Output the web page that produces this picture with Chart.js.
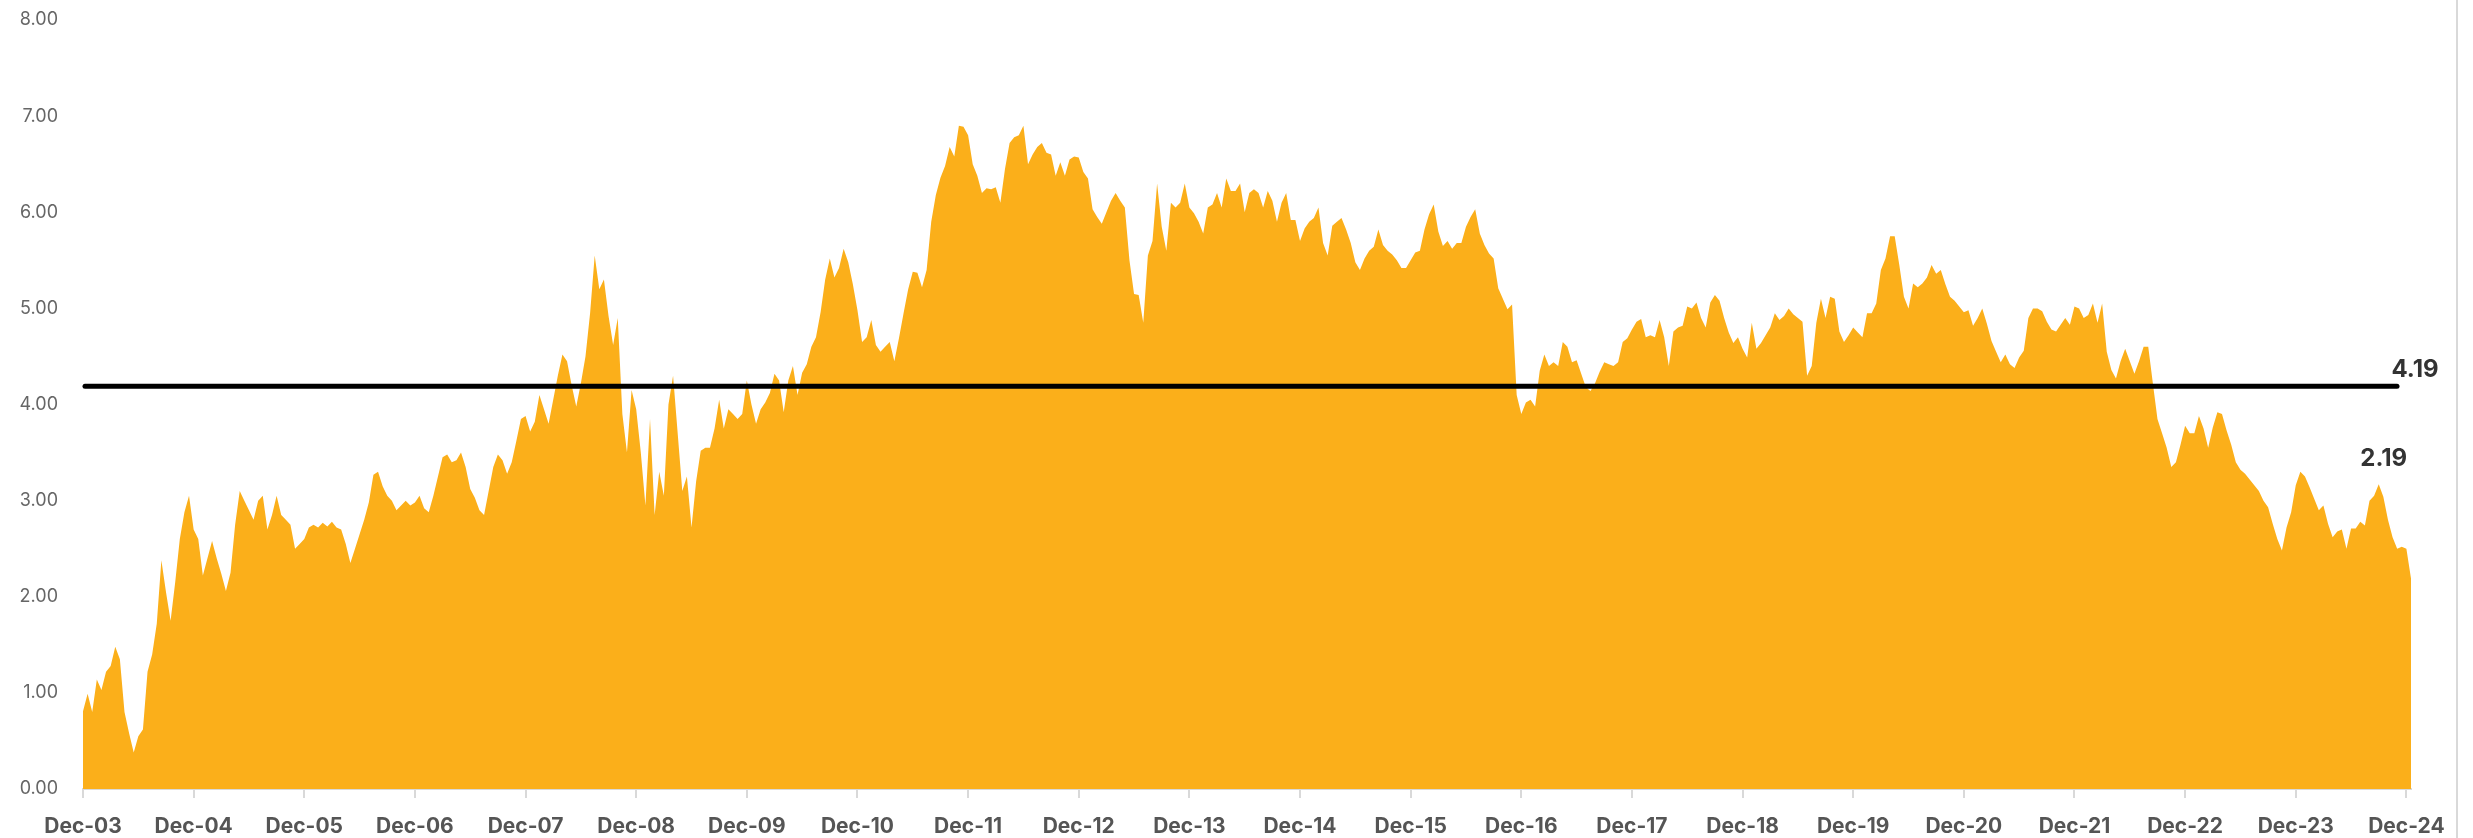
<!DOCTYPE html>
<html>
<head>
<meta charset="utf-8">
<title>Spread chart</title>
<script src="https://cdn.jsdelivr.net/npm/chart.js@4.4.1/dist/chart.umd.min.js"></script>
<style>
  html, body { margin: 0; padding: 0; background: #fff; }
  #wrap { width: 2473px; height: 838px; }
</style>
</head>
<body>
<div id="wrap"><canvas id="spreadChart" width="2473" height="838"></canvas></div>
<script>
// Year tick labels (one per December)
const tickLabels = ['Dec-03', 'Dec-04', 'Dec-05', 'Dec-06', 'Dec-07', 'Dec-08', 'Dec-09',
  'Dec-10', 'Dec-11', 'Dec-12', 'Dec-13', 'Dec-14', 'Dec-15', 'Dec-16', 'Dec-17',
  'Dec-18', 'Dec-19', 'Dec-20', 'Dec-21', 'Dec-22', 'Dec-23', 'Dec-24'];

// Two readings per month, starting Dec-03
const pointsPerYear = 24;

const spreadValues = [
  // Dec-03 .. Dec-04
  0.81, 0.99, 0.80, 1.14, 1.03, 1.22, 1.28, 1.48, 1.35, 0.80, 0.58, 0.38,
  0.55, 0.62, 1.22, 1.40, 1.72, 2.38, 2.05, 1.75, 2.15, 2.60, 2.88, 3.05,
  // Dec-04 .. Dec-05
  2.70, 2.60, 2.22, 2.40, 2.58, 2.40, 2.24, 2.06, 2.25, 2.75, 3.10, 3.00,
  2.90, 2.80, 3.00, 3.05, 2.70, 2.85, 3.05, 2.85, 2.80, 2.75, 2.50, 2.55,
  // Dec-05 .. Dec-06
  2.60, 2.72, 2.75, 2.72, 2.77, 2.73, 2.78, 2.72, 2.70, 2.55, 2.35, 2.50,
  2.65, 2.80, 2.98, 3.27, 3.30, 3.15, 3.05, 3.00, 2.90, 2.95, 3.00, 2.95,
  // Dec-06 .. Dec-07
  2.98, 3.05, 2.92, 2.88, 3.05, 3.25, 3.45, 3.48, 3.40, 3.42, 3.50, 3.35,
  3.12, 3.03, 2.90, 2.85, 3.10, 3.35, 3.48, 3.42, 3.28, 3.40, 3.62, 3.85,
  // Dec-07 .. Dec-08
  3.88, 3.72, 3.82, 4.10, 3.95, 3.80, 4.05, 4.30, 4.52, 4.45, 4.20, 3.98,
  4.22, 4.50, 4.95, 5.55, 5.20, 5.30, 4.92, 4.62, 4.90, 3.90, 3.50, 4.15,
  // Dec-08 .. Dec-09
  3.95, 3.50, 2.95, 3.85, 2.85, 3.30, 3.05, 4.00, 4.30, 3.70, 3.10, 3.25,
  2.72, 3.20, 3.52, 3.55, 3.55, 3.75, 4.05, 3.75, 3.95, 3.90, 3.85, 3.90,
  // Dec-09 .. Dec-10
  4.25, 4.00, 3.80, 3.95, 4.02, 4.12, 4.32, 4.25, 3.92, 4.25, 4.40, 4.10,
  4.33, 4.42, 4.60, 4.70, 4.96, 5.30, 5.52, 5.32, 5.42, 5.62, 5.48, 5.25,
  // Dec-10 .. Dec-11
  4.98, 4.65, 4.70, 4.88, 4.62, 4.55, 4.60, 4.65, 4.45, 4.69, 4.95, 5.20,
  5.38, 5.37, 5.22, 5.40, 5.90, 6.18, 6.36, 6.48, 6.68, 6.58, 6.90, 6.89,
  // Dec-11 .. Dec-12
  6.80, 6.50, 6.38, 6.20, 6.25, 6.24, 6.26, 6.10, 6.45, 6.72, 6.78, 6.80,
  6.90, 6.50, 6.60, 6.68, 6.72, 6.62, 6.60, 6.38, 6.52, 6.38, 6.55, 6.58,
  // Dec-12 .. Dec-13
  6.57, 6.42, 6.35, 6.03, 5.95, 5.88, 6.00, 6.12, 6.20, 6.12, 6.05, 5.50,
  5.15, 5.14, 4.85, 5.55, 5.70, 6.30, 5.85, 5.60, 6.10, 6.05, 6.10, 6.30,
  // Dec-13 .. Dec-14
  6.05, 5.99, 5.90, 5.78, 6.05, 6.08, 6.20, 6.05, 6.35, 6.22, 6.22, 6.30,
  6.00, 6.20, 6.24, 6.20, 6.05, 6.22, 6.12, 5.90, 6.10, 6.20, 5.92, 5.92,
  // Dec-14 .. Dec-15
  5.70, 5.83, 5.90, 5.94, 6.05, 5.68, 5.55, 5.86, 5.90, 5.94, 5.82, 5.68,
  5.48, 5.40, 5.52, 5.60, 5.64, 5.82, 5.66, 5.60, 5.56, 5.50, 5.42, 5.42,
  // Dec-15 .. Dec-16
  5.50, 5.58, 5.60, 5.82, 5.98, 6.08, 5.80, 5.65, 5.70, 5.62, 5.68, 5.68,
  5.85, 5.95, 6.03, 5.78, 5.66, 5.57, 5.52, 5.21, 5.10, 4.99, 5.04, 4.10,
  // Dec-16 .. Dec-17
  3.90, 4.02, 4.05, 3.98, 4.35, 4.52, 4.40, 4.44, 4.40, 4.65, 4.60, 4.44,
  4.46, 4.32, 4.18, 4.14, 4.22, 4.34, 4.44, 4.42, 4.40, 4.44, 4.65, 4.69,
  // Dec-17 .. Dec-18
  4.78, 4.86, 4.89, 4.70, 4.72, 4.70, 4.88, 4.70, 4.40, 4.76, 4.80, 4.82,
  5.02, 5.00, 5.06, 4.90, 4.80, 5.06, 5.14, 5.08, 4.90, 4.75, 4.64, 4.70,
  // Dec-18 .. Dec-19
  4.58, 4.49, 4.85, 4.58, 4.64, 4.72, 4.80, 4.95, 4.88, 4.92, 5.00, 4.94,
  4.90, 4.86, 4.30, 4.40, 4.85, 5.10, 4.90, 5.12, 5.10, 4.76, 4.65, 4.72,
  // Dec-19 .. Dec-20
  4.80, 4.75, 4.70, 4.95, 4.95, 5.05, 5.40, 5.52, 5.75, 5.75, 5.45, 5.12,
  5.00, 5.26, 5.22, 5.26, 5.32, 5.45, 5.36, 5.40, 5.25, 5.12, 5.08, 5.02,
  // Dec-20 .. Dec-21
  4.96, 4.98, 4.82, 4.90, 5.00, 4.84, 4.66, 4.55, 4.44, 4.52, 4.42, 4.38,
  4.49, 4.56, 4.90, 5.00, 5.00, 4.97, 4.86, 4.78, 4.76, 4.83, 4.90, 4.83,
  // Dec-21 .. Dec-22
  5.02, 5.00, 4.90, 4.93, 5.05, 4.85, 5.05, 4.55, 4.36, 4.27, 4.45, 4.58,
  4.45, 4.32, 4.45, 4.60, 4.60, 4.22, 3.85, 3.70, 3.55, 3.35, 3.40, 3.58,
  // Dec-22 .. Dec-23
  3.78, 3.70, 3.70, 3.88, 3.75, 3.55, 3.76, 3.92, 3.90, 3.73, 3.58, 3.40,
  3.32, 3.28, 3.22, 3.16, 3.10, 3.00, 2.93, 2.76, 2.60, 2.48, 2.72, 2.88,
  // Dec-23 .. Dec-24
  3.16, 3.30, 3.25, 3.14, 3.02, 2.90, 2.95, 2.76, 2.62, 2.68, 2.70, 2.50,
  2.71, 2.71, 2.78, 2.74, 3.00, 3.05, 3.17, 3.04, 2.80, 2.62, 2.50, 2.52,
  // Dec-24
  2.50, 2.19
];

// Long-run average shown as a flat line
const meanValue = 4.19;

const fillColor = '#FBAF1A';

// Chart.js wants {x, y} points on a linear time-in-years axis
const points = spreadValues.map((v, i) => ({ x: i / pointsPerYear, y: v }));
const lastX = (spreadValues.length - 1) / pointsPerYear;

// Draws the average line, the two value labels and the right frame line
const annotations = {
  id: 'annotations',
  afterDatasetsDraw(chart) {
    const { ctx, chartArea, scales } = chart;
    const yMean = scales.y.getPixelForValue(meanValue);

    ctx.save();
    ctx.strokeStyle = '#000';
    ctx.lineWidth = 5;
    ctx.lineCap = 'round';
    ctx.beginPath();
    ctx.moveTo(chartArea.left + 2, yMean);
    ctx.lineTo(chartArea.right - 14, yMean);
    ctx.stroke();

    ctx.fillStyle = '#333';
    ctx.font = 'bold 24px Inter, "Noto Sans", sans-serif';
    ctx.textAlign = 'center';
    ctx.textBaseline = 'middle';
    ctx.fillText(meanValue.toFixed(2), chartArea.right + 4, yMean - 16);

    // latest value, written above the most recent peak
    let peak = spreadValues.length - 12;
    for (let i = peak; i < spreadValues.length; i++) {
      if (spreadValues[i] > spreadValues[peak]) peak = i;
    }
    const last = spreadValues[spreadValues.length - 1];
    const px = scales.x.getPixelForValue(points[peak].x) + 5;
    const py = scales.y.getPixelForValue(spreadValues[peak]) - 26;
    ctx.fillText(last.toFixed(2), px, py);

    ctx.strokeStyle = '#d9d9d9';
    ctx.lineWidth = 2;
    ctx.lineCap = 'butt';
    ctx.beginPath();
    ctx.moveTo(2457, 0);
    ctx.lineTo(2457, chart.height);
    ctx.stroke();
    ctx.restore();
  }
};

const ctx = document.getElementById('spreadChart').getContext('2d');
new Chart(ctx, {
  type: 'line',
  data: {
    datasets: [{
      data: points,
      backgroundColor: fillColor,
      borderColor: fillColor,
      borderWidth: 0,
      pointRadius: 0,
      tension: 0,
      fill: 'origin'
    }]
  },
  options: {
    responsive: false,
    animation: false,
    devicePixelRatio: 1,
    layout: { padding: { top: 20, right: 62, bottom: 0, left: 0 } },
    plugins: {
      legend: { display: false },
      tooltip: { enabled: false }
    },
    scales: {
      x: {
        type: 'linear',
        min: 0,
        max: lastX,
        afterBuildTicks: (scale) => {
          scale.ticks = tickLabels.map((_, k) => ({ value: k }));
        },
        afterFit: (scale) => { scale.height = 49; },
        grid: { drawOnChartArea: false, color: '#d9d9d9', lineWidth: 2, tickLength: 9 },
        border: { color: '#d9d9d9', width: 2 },
        ticks: {
          autoSkip: false,
          maxRotation: 0,
          padding: 16,
          color: '#555',
          font: { family: 'Inter, "Noto Sans", sans-serif', size: 21, weight: 'bold' },
          callback: (v) => tickLabels[Math.round(v)]
        }
      },
      y: {
        min: 0,
        max: 8,
        // fixed width, and no extra top/bottom room from the tick padding
        afterFit: (scale) => {
          scale.width = 83;
          scale.paddingTop = 0;
          scale.paddingBottom = 0;
        },
        grid: { display: false, drawTicks: false },
        border: { display: false },
        ticks: {
          stepSize: 1,
          padding: 25,
          color: '#666',
          font: { family: 'Inter, "Noto Sans", sans-serif', size: 18 },
          callback: (v) => v.toFixed(2)
        }
      }
    }
  },
  plugins: [annotations]
});
</script>
</body>
</html>
